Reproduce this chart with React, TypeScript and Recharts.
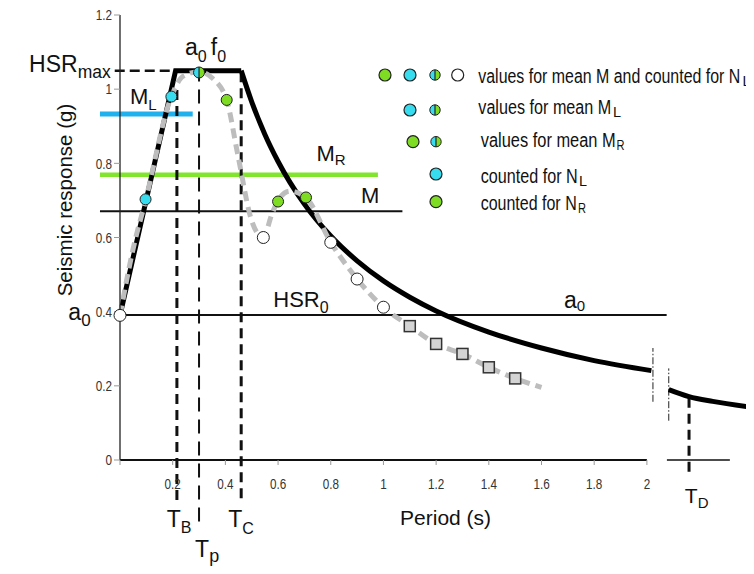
import React from 'react';
import { ComposedChart, Line, Scatter, XAxis, YAxis, ReferenceLine, ReferenceDot, Legend } from 'recharts';

const W = 746;
const H = 566;
const CYAN = '#38dcef';
const GREEN = '#7edc22';
const ML_COLOR = '#1fb0ee';
const MR_COLOR = '#80e52c';
const SANS = '"Liberation Sans", Arial, sans-serif';

// ----- data -----
const xTicks = [0, 0.2, 0.4, 0.6, 0.8, 1, 1.2, 1.4, 1.6, 1.8, 2];
const yTicks = [0, 0.2, 0.4, 0.6, 0.8, 1, 1.2];

// design spectrum (black, thick)
const designRise = [
  { x: 0, y: 0.39 },
  { x: 0.211, y: 1.05 },
  { x: 0.46, y: 1.05 },
];
const designFall = [
  { x: 0.46, y: 1.05 },
  { x: 0.5, y: 0.966 },
  { x: 0.55, y: 0.878 },
  { x: 0.6, y: 0.805 },
  { x: 0.7, y: 0.69 },
  { x: 0.8, y: 0.604 },
  { x: 0.9, y: 0.537 },
  { x: 1.0, y: 0.483 },
  { x: 1.1, y: 0.439 },
  { x: 1.2, y: 0.402 },
  { x: 1.4, y: 0.345 },
  { x: 1.6, y: 0.302 },
  { x: 1.8, y: 0.268 },
  { x: 2.017, y: 0.241 },
];
const designTail = [
  { x: 2.083, y: 0.19 },
  { x: 2.16, y: 0.171 },
  { x: 2.25, y: 0.158 },
  { x: 2.378, y: 0.144 },
];

// mean spectrum (grey dashed)
const meanSpectrum = [
  { x: 0, y: 0.39 },
  { x: 0.05, y: 0.57 },
  { x: 0.097, y: 0.7 },
  { x: 0.195, y: 0.98 },
  { x: 0.24, y: 1.035 },
  { x: 0.3, y: 1.047 },
  { x: 0.35, y: 1.03 },
  { x: 0.405, y: 0.97 },
  { x: 0.448, y: 0.82 },
  { x: 0.5, y: 0.645 },
  { x: 0.544, y: 0.6 },
  { x: 0.575, y: 0.66 },
  { x: 0.6, y: 0.7 },
  { x: 0.645, y: 0.725 },
  { x: 0.706, y: 0.707 },
  { x: 0.8, y: 0.587 },
  { x: 0.9, y: 0.488 },
  { x: 1.0, y: 0.412 },
  { x: 1.1, y: 0.361 },
  { x: 1.2, y: 0.313 },
  { x: 1.3, y: 0.286 },
  { x: 1.4, y: 0.25 },
  { x: 1.5, y: 0.22 },
  { x: 1.6, y: 0.196 },
];

const whitePoints = [
  { x: 0, y: 0.39 },
  { x: 0.544, y: 0.6 },
  { x: 0.8, y: 0.587 },
  { x: 0.9, y: 0.488 },
  { x: 1.0, y: 0.412 },
];
const cyanPoints = [
  { x: 0.097, y: 0.703 },
  { x: 0.195, y: 0.98 },
];
const halfPoints = [{ x: 0.3, y: 1.045 }];
const greenPoints = [
  { x: 0.405, y: 0.971 },
  { x: 0.6, y: 0.697 },
  { x: 0.706, y: 0.708 },
];
const squarePoints = [
  { x: 1.1, y: 0.361 },
  { x: 1.2, y: 0.313 },
  { x: 1.3, y: 0.286 },
  { x: 1.4, y: 0.25 },
  { x: 1.5, y: 0.22 },
];

// characteristic values
const a0 = 0.391;
const hsrMax = 1.05;
const meanM = 0.671;
const meanML = 0.933;
const meanMR = 0.769;
const TB = 0.216;
const Tp = 0.3;
const TC = 0.46;
const TD = 2.16;

type Part = [string, number, number, number?];
type Ann = { x: number; y: number; parts: Part[]; anchor?: string; rotate?: number };

const annotations: Ann[] = [
  { x: -0.345, y: 1.046, parts: [['HSR', 23, 0], ['max', 17.5, 6]] },
  { x: 0.247, y: 1.092, parts: [['a', 23, 0], ['0', 16, 6.7], ['f', 23, 0, 4], ['0', 16, 6.7]] },
  { x: 0.038, y: 0.961, parts: [['M', 22, 0], ['L', 15, 6]] },
  { x: 0.746, y: 0.805, parts: [['M', 22, 0], ['R', 15, 4]] },
  { x: 0.915, y: 0.692, parts: [['M', 22, 0]] },
  { x: 0.582, y: 0.413, parts: [['HSR', 22, 0], ['0', 16, 6]] },
  { x: -0.196, y: 0.378, parts: [['a', 23, 0], ['0', 17, 6.5]] },
  { x: 1.685, y: 0.409, parts: [['a', 23, 0], ['0', 15, 3]] },
  { x: 0.177, y: -0.18, parts: [['T', 23, 0], ['B', 16, 6.6]] },
  { x: 0.285, y: -0.261, parts: [['T', 23, 0], ['p', 18, 5.5]] },
  { x: 0.411, y: -0.18, parts: [['T', 23, 0], ['C', 16, 7]] },
  { x: 2.144, y: -0.117, parts: [['T', 21, 0], ['D', 15, 5]] },
  { x: 1.063, y: -0.175, parts: [['Period (s)', 21, 0]] },
  { x: -0.182, y: 0.701, parts: [['Seismic response (g)', 20.5, 0]], anchor: 'middle', rotate: -90 },
];

type LegendRow = {
  y: number;
  markers: [string, number][];
  textX: number;
  base: number;
  text: string;
  textW: number;
  sub: string;
  subX: number;
};
const legendRows: LegendRow[] = [
  { y: 67, markers: [['green', 377], ['cyan', 402], ['half', 427], ['white', 449.7]], textX: 470.3, base: 75.3, text: 'values for mean M and counted for N', textW: 262, sub: 'L', subX: 734.5 },
  { y: 102, markers: [['cyan', 402], ['half', 427]], textX: 470.3, base: 106, text: 'values for mean M', textW: 133, sub: 'L', subX: 605 },
  { y: 133.7, markers: [['green', 405], ['half', 428]], textX: 472.7, base: 138.5, text: 'values for mean M', textW: 135, sub: 'R', subX: 608.5 },
  { y: 166, markers: [['cyan', 428]], textX: 472.7, base: 174.5, text: 'counted for N', textW: 97, sub: 'L', subX: 571 },
  { y: 193.7, markers: [['green', 428]], textX: 472.7, base: 201.5, text: 'counted for N', textW: 96, sub: 'R', subX: 570 },
];

// ----- shapes -----
function HalfDot({ cx, cy, r }: { cx: number; cy: number; r: number }) {
  return (
    <g>
      <path d={`M${cx},${cy - r} A${r},${r} 0 0 0 ${cx},${cy + r} Z`} fill={CYAN} />
      <path d={`M${cx},${cy - r} A${r},${r} 0 0 1 ${cx},${cy + r} Z`} fill={GREEN} />
      <circle cx={cx} cy={cy} r={r} fill="none" stroke="#222" strokeWidth={1} />
      <line x1={cx} y1={cy - r} x2={cx} y2={cy + r} stroke="#222" strokeWidth={1.2} />
    </g>
  );
}

const circleShape = (fill: string, r = 5.5) => (p: any) => (
  <circle cx={p.cx} cy={p.cy} r={r} fill={fill} stroke="#222" strokeWidth={1} />
);
const halfShape = (p: any) => <HalfDot cx={p.cx} cy={p.cy} r={5.5} />;
const squareShape = (p: any) => (
  <rect x={p.cx - 5.5} y={p.cy - 5.5} width={11} height={11} fill="#d4d4d4" stroke="#333" strokeWidth={1.5} />
);

const fmt = (v: number) => (v === 0 ? '0' : String(v));

function XTick(p: any) {
  const v = p.payload?.value;
  if (v === 0) return null;
  return (
    <g transform={`translate(${p.x},${p.y})`}>
      <text transform="scale(0.78,1)" textAnchor="middle" dy="0.71em" fontFamily={SANS} fontSize={15} fill="#333">
        {fmt(v)}
      </text>
    </g>
  );
}

function YTick(p: any) {
  const v = p.payload?.value;
  return (
    <g transform={`translate(${p.x},${p.y})`}>
      <text transform="scale(0.78,1)" textAnchor="end" dy="0.355em" fontFamily={SANS} fontSize={15} fill="#333">
        {fmt(v)}
      </text>
    </g>
  );
}

function renderAnn(p: any, a: Ann) {
  const vb = (p && p.viewBox) || {};
  const x = (vb.x ?? p.x ?? 0) + (vb.width ?? 0) / 2;
  const y = (vb.y ?? p.y ?? 0) + (vb.height ?? 0) / 2;
  let prev = 0;
  return (
    <text
      x={x}
      y={y}
      fontFamily={SANS}
      fill="#111"
      textAnchor={a.anchor ?? 'start'}
      transform={a.rotate ? `rotate(${a.rotate} ${x} ${y})` : undefined}
    >
      {a.parts.map((pt, i) => {
        const dy = pt[2] - prev;
        prev = pt[2];
        return (
          <tspan key={i} fontSize={pt[1]} dy={dy} dx={pt[3] ?? 0}>
            {pt[0]}
          </tspan>
        );
      })}
    </text>
  );
}

function LegendBox() {
  return (
    <svg width={W} height={230} style={{ display: 'block' }}>
      {legendRows.map((row, i) => (
        <g key={i}>
          {row.markers.map(([kind, mx], j) => {
            if (kind === 'half') return <HalfDot key={j} cx={mx} cy={row.y} r={5.2} />;
            const fill = kind === 'green' ? GREEN : kind === 'cyan' ? CYAN : '#fff';
            return <circle key={j} cx={mx} cy={row.y} r={6} fill={fill} stroke="#222" strokeWidth={1.2} />;
          })}
          <text
            x={row.textX}
            y={row.base}
            fontFamily={SANS}
            fontSize={20}
            fill="#111"
            textLength={row.textW}
            lengthAdjust="spacingAndGlyphs"
          >
            {row.text}
          </text>
          <text x={row.subX} y={row.base + 3} fontFamily={SANS} fontSize={15} fill="#111" textLength={8} lengthAdjust="spacingAndGlyphs">
            {row.sub}
          </text>
        </g>
      ))}
    </svg>
  );
}

export default function App() {
  return (
    <ComposedChart width={W} height={H} margin={{ top: 7, right: 7, left: 72, bottom: 84 }}>
      <XAxis
        type="number"
        dataKey="x"
        domain={[0, 2.38]}
        ticks={xTicks}
        axisLine={false}
        tickLine={{ stroke: '#999' }}
        tickSize={5}
        tickMargin={13}
        height={30}
        interval={0}
        tick={<XTick />}
      />
      <YAxis
        type="number"
        dataKey="y"
        domain={[0, 1.2]}
        ticks={yTicks}
        width={40}
        interval={0}
        axisLine={{ stroke: '#222', strokeWidth: 1.3 }}
        tickLine={{ stroke: '#999' }}
        tickSize={6}
        tickMargin={2}
        tick={<YTick />}
      />
      <Legend
        layout="vertical"
        align="center"
        verticalAlign="middle"
        wrapperStyle={{ left: 0, top: 0, width: W, height: 230, pointerEvents: 'none' }}
        content={() => <LegendBox />}
      />

      {/* axes pieces with break */}
      <ReferenceLine segment={[{ x: 0, y: 0 }, { x: 2.0, y: 0 }]} stroke="#111" strokeWidth={1.8} ifOverflow="visible" />
      <ReferenceLine segment={[{ x: 2.076, y: 0 }, { x: 2.315, y: 0 }]} stroke="#111" strokeWidth={1.5} ifOverflow="visible" />
      <ReferenceLine segment={[{ x: 2.023, y: 0.157 }, { x: 2.023, y: 0.302 }]} stroke="#222" strokeWidth={1} strokeDasharray="7 2 1.5 2" ifOverflow="visible" />
      <ReferenceLine segment={[{ x: 2.083, y: 0.106 }, { x: 2.083, y: 0.247 }]} stroke="#222" strokeWidth={1} strokeDasharray="7 2 1.5 2" ifOverflow="visible" />

      {/* horizontal reference levels */}
      <ReferenceLine segment={[{ x: 0, y: a0 }, { x: 2.075, y: a0 }]} stroke="#111" strokeWidth={2} ifOverflow="visible" />
      <ReferenceLine segment={[{ x: -0.076, y: meanM }, { x: 1.072, y: meanM }]} stroke="#111" strokeWidth={2} ifOverflow="visible" />
      <ReferenceLine segment={[{ x: -0.076, y: meanMR }, { x: 0.979, y: meanMR }]} stroke={MR_COLOR} strokeWidth={4.5} ifOverflow="visible" />
      <ReferenceLine segment={[{ x: -0.076, y: meanML }, { x: 0.276, y: meanML }]} stroke={ML_COLOR} strokeWidth={5} ifOverflow="visible" />
      <ReferenceLine segment={[{ x: -0.02, y: hsrMax }, { x: 0.211, y: hsrMax }]} stroke="#111" strokeWidth={2.5} strokeDasharray="10 5" ifOverflow="visible" />

      {/* period markers */}
      <ReferenceLine segment={[{ x: TB, y: -0.108 }, { x: TB, y: 1.0 }]} stroke="#111" strokeWidth={3} strokeDasharray="10 6" ifOverflow="visible" />
      <ReferenceLine segment={[{ x: Tp, y: -0.166 }, { x: Tp, y: 1.04 }]} stroke="#111" strokeWidth={2} strokeDasharray="14 8" ifOverflow="visible" />
      <ReferenceLine segment={[{ x: TC, y: -0.103 }, { x: TC, y: 1.04 }]} stroke="#111" strokeWidth={3} strokeDasharray="10 6" ifOverflow="visible" />
      <ReferenceLine segment={[{ x: TD, y: -0.032 }, { x: TD, y: 0.167 }]} stroke="#111" strokeWidth={3} strokeDasharray="10 6" ifOverflow="visible" />

      {/* spectra */}
      <Line data={designRise} dataKey="y" type="linear" stroke="#000" strokeWidth={5} dot={false} isAnimationActive={false} strokeLinejoin="miter" />
      <Line data={designFall} dataKey="y" type="monotone" stroke="#000" strokeWidth={5} dot={false} isAnimationActive={false} />
      <Line data={designTail} dataKey="y" type="monotone" stroke="#000" strokeWidth={5} dot={false} isAnimationActive={false} />
      <Line data={meanSpectrum} dataKey="y" type="monotone" stroke="#bdbdbd" strokeWidth={5} strokeDasharray="10 6" dot={false} isAnimationActive={false} />

      {/* points */}
      <Scatter data={squarePoints} shape={squareShape} isAnimationActive={false} />
      <Scatter data={whitePoints} shape={circleShape('#fff', 6)} isAnimationActive={false} />
      <Scatter data={cyanPoints} shape={circleShape(CYAN)} isAnimationActive={false} />
      <Scatter data={greenPoints} shape={circleShape(GREEN)} isAnimationActive={false} />
      <Scatter data={halfPoints} shape={halfShape} isAnimationActive={false} />

      {/* text annotations */}
      {annotations.map((a, i) => (
        <ReferenceDot
          key={`ann-${i}`}
          x={a.x}
          y={a.y}
          r={0}
          fill="none"
          stroke="none"
          ifOverflow="visible"
          label={(p: any) => renderAnn(p, a)}
        />
      ))}
    </ComposedChart>
  );
}
